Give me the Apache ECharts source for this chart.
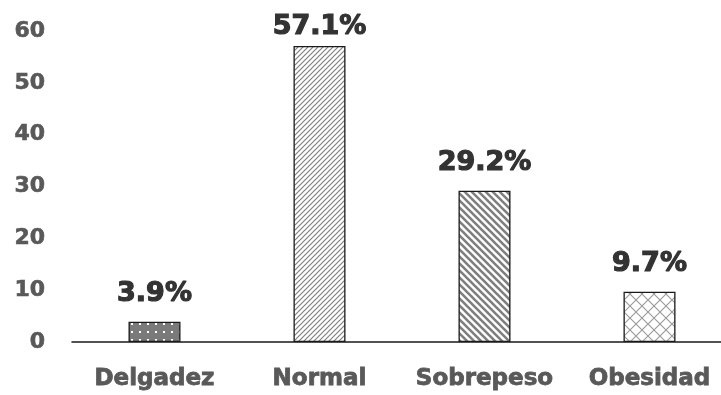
<!DOCTYPE html>
<html>
<head>
<meta charset="utf-8">
<script src="https://cdn.jsdelivr.net/npm/echarts@6/dist/echarts.min.js"></script>
<style>
  html, body { margin: 0; padding: 0; background: #fff; overflow: hidden; }
  #chart { width: 740px; height: 395px; }
</style>
</head>
<body>
<div id="chart"></div>
<script>
// Categories and percentage values
const categories = ['Delgadez', 'Normal', 'Sobrepeso', 'Obesidad'];
const values = [3.9, 57.1, 29.2, 9.7];
const yTicks = [0, 10, 20, 30, 40, 50, 60];

// Small canvas tiles used as fill patterns for each bar
function tile(w, h, draw) {
  const c = document.createElement('canvas');
  c.width = w; c.height = h;
  const ctx = c.getContext('2d');
  draw(ctx, w, h);
  return { image: c, repeat: 'repeat' };
}

const dots = tile(8, 8, (ctx, w, h) => {
  ctx.fillStyle = '#7a7a7a'; ctx.fillRect(0, 0, w, h);
  ctx.fillStyle = '#ffffff'; ctx.fillRect(3, 3, 2, 2);
});

const fineDiag = tile(5, 5, (ctx, w, h) => {
  ctx.fillStyle = '#ffffff'; ctx.fillRect(0, 0, w, h);
  ctx.strokeStyle = '#808080'; ctx.lineWidth = 1.2;
  ctx.beginPath();
  ctx.moveTo(-1, h + 1); ctx.lineTo(w + 1, -1);
  ctx.moveTo(-1 - w, h + 1); ctx.lineTo(1, -1);
  ctx.moveTo(w - 1, h + 1); ctx.lineTo(2 * w + 1, -1);
  ctx.stroke();
});

const wideDiag = tile(7, 7, (ctx, w, h) => {
  ctx.fillStyle = '#ffffff'; ctx.fillRect(0, 0, w, h);
  ctx.strokeStyle = '#7f7f7f'; ctx.lineWidth = 2.6;
  ctx.beginPath();
  ctx.moveTo(-1, -1); ctx.lineTo(w + 1, h + 1);
  ctx.moveTo(-1 - w, -1); ctx.lineTo(1, h + 1);
  ctx.moveTo(w - 1, -1); ctx.lineTo(2 * w + 1, h + 1);
  ctx.stroke();
});

const cross = tile(12, 12, (ctx, w, h) => {
  ctx.fillStyle = '#ffffff'; ctx.fillRect(0, 0, w, h);
  ctx.strokeStyle = '#9a9a9a'; ctx.lineWidth = 1.1;
  ctx.beginPath();
  ctx.moveTo(0, 0); ctx.lineTo(w, h);
  ctx.moveTo(w, 0); ctx.lineTo(0, h);
  ctx.stroke();
});

const fills = [dots, fineDiag, wideDiag, cross];
const labelGaps = [14, 6, 14, 14];

const chart = echarts.init(document.getElementById('chart'));
chart.setOption({
  animation: false,
  grid: { left: 72, width: 660, top: 31, bottom: 53 },
  xAxis: {
    type: 'category',
    data: categories,
    axisLine: { lineStyle: { color: '#1a1a1a', width: 1.5 } },
    axisTick: { show: false },
    axisLabel: {
      interval: 0,
      color: '#595959', fontSize: 23, fontWeight: 'bold',
      fontFamily: 'DejaVu Sans', margin: 26,
      textBorderColor: '#595959', textBorderWidth: 0.8
    }
  },
  yAxis: {
    type: 'value',
    min: yTicks[0], max: yTicks[yTicks.length - 1], interval: 10,
    splitLine: { show: false },
    axisLine: { show: false },
    axisTick: { show: false },
    axisLabel: {
      color: '#595959', fontSize: 22, fontWeight: 'bold',
      fontFamily: 'DejaVu Sans', margin: 27,
      textBorderColor: '#595959', textBorderWidth: 0.6
    }
  },
  series: [{
    type: 'bar',
    barWidth: 52,
    data: values.map((v, i) => ({
      value: v,
      itemStyle: { color: fills[i], borderColor: '#1a1a1a', borderWidth: 1.3 },
      label: { distance: labelGaps[i] }
    })),
    label: {
      show: true, position: 'top',
      formatter: p => p.value.toFixed(1) + '%',
      color: '#333333', fontSize: 27, fontWeight: 'bold',
      fontFamily: 'DejaVu Sans',
      textBorderColor: '#333333', textBorderWidth: 1.2
    }
  }]
});
</script>
</body>
</html>
